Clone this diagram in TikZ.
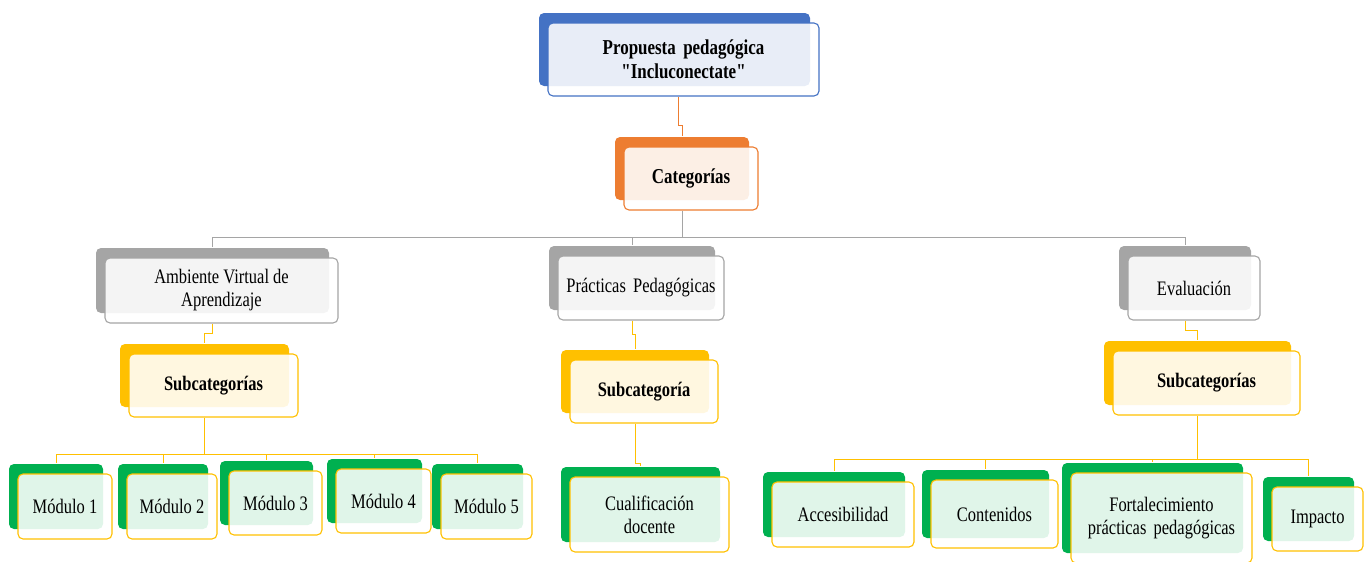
\documentclass[tikz,border=0pt]{standalone}
\usepackage{fontspec}
\setmainfont[FakeStretch=0.8, Ligatures=TeXOff]{Liberation Serif}
\usetikzlibrary{shadows,backgrounds}
\definecolor{cblue}{HTML}{4472C4}
\definecolor{corange}{HTML}{ED7D31}
\definecolor{cgray}{HTML}{A5A5A5}
\definecolor{cgold}{HTML}{FFC000}
\definecolor{cgreen}{HTML}{00B050}
\tikzset{card/.style 2 args={draw=#1, line width=1.1pt, rounded corners=5pt, fill=white, fill opacity=0.88, text opacity=1, align=center, inner sep=2pt,
            general shadow={shadow xshift=-9pt, shadow yshift=10pt, fill=#2, draw=none, fill opacity=1}},
         rootbox/.style={card={cblue}{cblue}, font=\fontsize{21.2}{24}\selectfont\bfseries},
         catbox/.style={card={corange}{corange}, font=\fontsize{21.2}{24}\selectfont\bfseries},
         areabox/.style={card={cgray}{cgray}, font=\fontsize{20.6}{23}\selectfont},
         subbox/.style={card={cgold}{cgold}, font=\fontsize{20.6}{23}\selectfont\bfseries},
         leafbox/.style={card={cgold}{cgreen}, font=\fontsize{20.6}{23}\selectfont},
         link/.style={draw=#1, line width=0.9pt}}
\begin{document}
\begin{tikzpicture}[x=1pt,y=-1pt]
        \useasboundingbox (0,0) rectangle (1368,562);
        \node[rootbox, minimum width=271pt, minimum height=73pt](root)at(683.5,59.5){Propuesta\hspace{0.15em} pedagógica\\"Incluconectate"};
        \node[catbox, minimum width=134pt, minimum height=63pt](cat)at(691,178.5){Categorías};

        \node[areabox, minimum width=233pt, minimum height=65pt](ava)at(221.5,290.5){Ambiente Virtual de\\Aprendizaje};
        \node[areabox, minimum width=166pt, minimum height=64pt](prac)at(641,288){Prácticas\hspace{0.15em} Pedagógicas};
        \node[areabox, minimum width=132pt, minimum height=64pt](eva)at(1194,288){Evaluación};

        \node[subbox, minimum width=169pt, minimum height=63pt](sub1)at(213.5,385.5){Subcategorías};
        \node[subbox, minimum width=148pt, minimum height=63pt](sub2)at(644,391.5){Subcategoría};
        \node[subbox, minimum width=187pt, minimum height=64pt](sub3)at(1206.5,383){Subcategorías};

        \node[leafbox, minimum width=94pt, minimum height=65pt](m1)at(65,506.5){Módulo 1};
        \node[leafbox, minimum width=90pt, minimum height=65pt](m2)at(172,506.5){Módulo 2};
        \node[leafbox, minimum width=93pt, minimum height=64pt](m3)at(275.5,503){Módulo 3};
        \node[leafbox, minimum width=95pt, minimum height=64pt](m4)at(383.5,501){Módulo 4};
        \node[leafbox, minimum width=91pt, minimum height=65pt](m5)at(486.5,506.5){Módulo 5};
        \node[leafbox, minimum width=159pt, minimum height=75pt](cual)at(649.5,514.5){Cualificación\\docente};
        \node[leafbox, minimum width=142pt, minimum height=65pt](acc)at(843,514.5){Accesibilidad};
        \node[leafbox, minimum width=127pt, minimum height=68pt](cont)at(994.5,514){Contenidos};
        \node[leafbox, minimum width=181pt, minimum height=90pt](fort)at(1161.5,518){Fortalecimiento\\prácticas\hspace{0.15em} pedagógicas};
        \node[leafbox, minimum width=91pt, minimum height=64pt](imp)at(1317.5,519){Impacto};

        % conectores detras de las cajas
        \begin{scope}[on background layer]
        \draw[link=corange]([xshift=-5pt]root.south)--++(0,29)-|([xshift=-9pt,yshift=10pt]cat.north);
        \draw[link=cgray]([xshift=-9pt]cat.south)--++(0,27)coordinate(cbus);
        \foreach \a in {ava,prac,eva}
            \draw[link=cgray](cbus)-|([xshift=-9pt,yshift=10pt]\a.north);
        \draw[link=cgold]([xshift=-9pt]ava.south)--++(0,10)-|([xshift=-9pt,yshift=10pt]sub1.north);
        \draw[link=cgold]([xshift=-9pt]prac.south)--++(0,14)-|([xshift=-9pt,yshift=10pt]sub2.north);
        \draw[link=cgold]([xshift=-9pt]eva.south)--++(0,10)-|([xshift=-9pt,yshift=10pt]sub3.north);
        \draw[link=cgold]([xshift=-9pt]sub1.south)--++(0,37)coordinate(mbus);
        \foreach \m in {m1,m2,m3,m4,m5}
            \draw[link=cgold](mbus)-|([xshift=-9pt,yshift=10pt]\m.north);
        \draw[link=cgold]([xshift=-9pt]sub2.south)--++(0,40)-|([xshift=-9pt,yshift=10pt]cual.north);
        \draw[link=cgold]([xshift=-9pt]sub3.south)--++(0,44)coordinate(lbus);
        \foreach \l in {acc,cont,fort,imp}
            \draw[link=cgold](lbus)-|([xshift=-9pt,yshift=10pt]\l.north);
        \end{scope}
\end{tikzpicture}
\end{document}
